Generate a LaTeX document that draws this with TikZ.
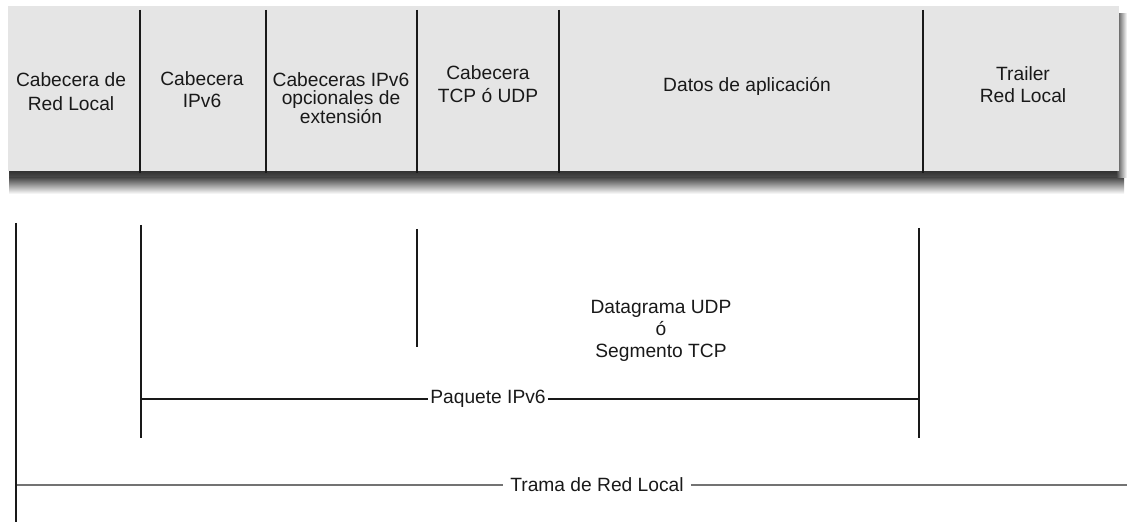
\documentclass[tikz,border=0pt]{standalone}
\usepackage{fontspec}
\setmainfont{Liberation Sans}
\begin{document}
\begin{tikzpicture}[x=1bp,y=-1bp,
  lbl/.style={inner sep=0pt, align=center, text=black!90, font=\fontsize{19.2bp}{22bp}\selectfont},
  divider/.style={line width=1.4bp, black!90},
  bracket/.style={line width=1.3bp, black!90},
  frameline/.style={line width=1.3bp, black!55}]
\useasboundingbox (0,0) rectangle (1127,522);

% drop shadow of the frame bar
\shade[top color=black!85, bottom color=black!70] (9,168) rectangle (1124,178);
\shade[top color=black!70, bottom color=white] (9,178) rectangle (1124,194);
\shade[left color=black!70, right color=white] (1117,14) rectangle (1127,178);

% frame bar
\fill[black!10] (8,6) rectangle (1119,171);

% field separators
\foreach \x/\n in {140/d1,266/d2,417/d3,559/d4,923/d5}{
  \coordinate (\n t) at (\x,10);
  \coordinate (\n b) at (\x,173);
  \draw[divider] (\n t) -- (\n b);
}

% field labels
\node[lbl, font=\fontsize{19.2bp}{24bp}\selectfont] (f1) at (71,92) {Cabecera de\\Red Local};
\node[lbl] (f2) at (202,90) {Cabecera\\IPv6};
\node[lbl, font=\fontsize{19.2bp}{18.5bp}\selectfont] (f3) at (341,98) {Cabeceras IPv6\\opcionales de\\extensión};
\node[lbl, font=\fontsize{19.2bp}{23bp}\selectfont] (f4) at (488,84) {Cabecera\\TCP ó UDP};
\node[lbl] (f5) at (747,86) {Datos de aplicación};
\node[lbl] (f6) at (1023,85) {Trailer\\Red Local};

% transport-layer span
\coordinate (s1) at (417,229);
\coordinate (s2) at (417,347);
\draw[bracket] (s1) -- (s2);
\node[lbl] (seg) at (661,331) {Datagrama UDP\\ó\\Segmento TCP};

% IPv6 packet span
\coordinate (p1t) at (141,225);
\coordinate (p1b) at (141,438);
\coordinate (p2t) at (919,228);
\coordinate (p2b) at (919,438);
\coordinate (pl) at (141,399);
\coordinate (pr) at (919,399);
\draw[bracket] (p1t) -- (p1b);
\draw[bracket] (p2t) -- (p2b);
\node[lbl, inner xsep=2bp] (pkt) at (488,399) {Paquete IPv6};
\draw[bracket] (pl) -- (pkt.west);
\draw[bracket] (pkt.east) -- (pr);

% LAN frame span
\coordinate (t1t) at (16,223);
\coordinate (t1b) at (16,522);
\coordinate (tl) at (17,485);
\coordinate (tr) at (1127,485);
\draw[bracket] (t1t) -- (t1b);
\node[lbl, inner xsep=7bp] (frm) at (597,485) {Trama de Red Local};
\draw[frameline] (tl) -- (frm.west);
\draw[frameline] (frm.east) -- (tr);
\end{tikzpicture}
\end{document}
